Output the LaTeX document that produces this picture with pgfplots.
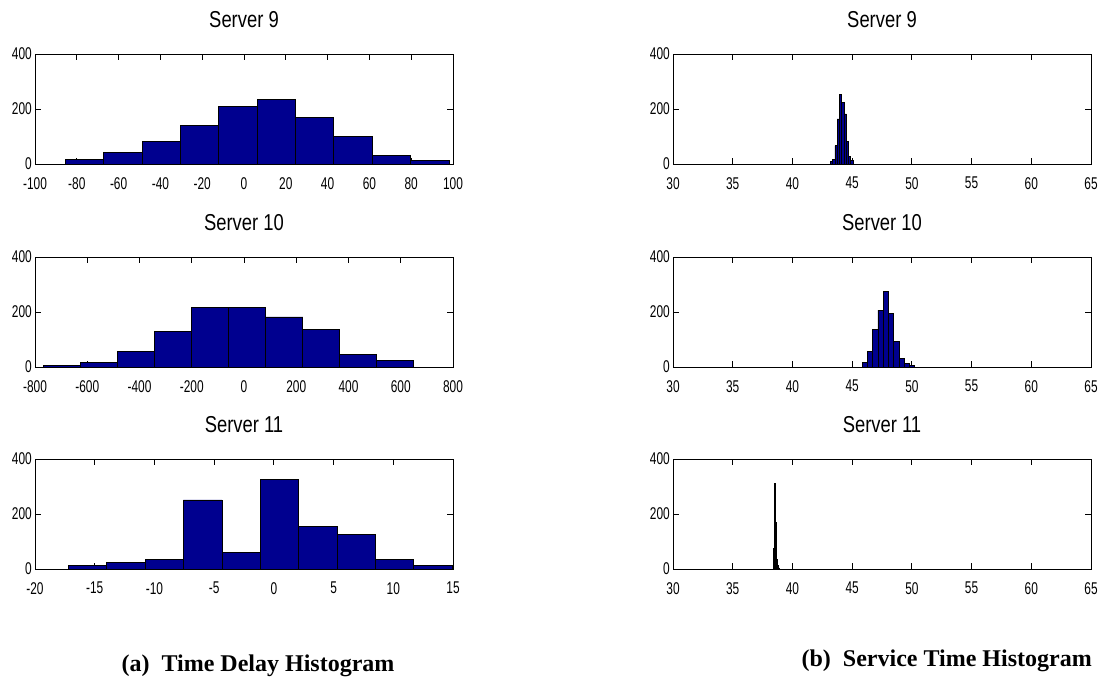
\documentclass[border=0pt]{standalone}
\usepackage{fontspec}
\setmainfont{Liberation Sans}
\newfontfamily\tickfont[FakeStretch=0.70]{Liberation Sans}
\newfontfamily\titfont[FakeStretch=0.80]{Liberation Sans}
\newfontfamily\capfont{Liberation Serif}
\usepackage{pgfplots}
\pgfplotsset{compat=1.18}
\definecolor{mnavy}{RGB}{0,0,143}
\pgfplotsset{
  hist/.style={
    scale only axis, width=418pt, height=110pt,
    ymin=0, ymax=400, ytick={0,200,400},
    tick align=inside, major tick length=6pt,
    tick style={black, line width=0.8pt},
    axis line style={line width=1pt},
    tick label style={font=\tickfont\fontsize{17}{17}\selectfont},
    /pgf/number format/assume math mode=true,
    scaled ticks=false,
    xticklabel style={anchor=north, inner sep=0pt, yshift=-13pt},
    yticklabel style={anchor=east, inner sep=0pt, xshift=-3pt},
    title style={at={(0.5,1)}, anchor=base, yshift=21pt, inner sep=0pt,
      font=\titfont\fontsize{23}{23}\selectfont},
    anchor=south west,
  },
  bars/.style={ybar interval, fill=mnavy, draw=black, line width=0.8pt},
}
\begin{document}
\begin{tikzpicture}
\useasboundingbox (0,0) rectangle (1099pt,-681pt);
% ---------- Left column: Time Delay ----------
\begin{axis}[hist, at={(35pt,-164pt)}, title={Server 9},
  xmin=-100, xmax=100, xtick={-100,-80,...,100}]
\addplot[bars] coordinates {(-85.6,18) (-67.2,41) (-48.8,83) (-30.5,141) (-12.1,210)
  (6.3,235) (24.7,170) (43.0,101) (61.4,30) (79.8,12) (98.2,0)};
\end{axis}
\begin{axis}[hist, at={(35pt,-367pt)}, title={Server 10},
  xmin=-800, xmax=800, xtick={-800,-600,...,800}]
\addplot[bars] coordinates {(-768,6) (-626,17) (-484,57) (-343,130) (-201,218)
  (-59,218) (83,182) (225,136) (366,46) (508,24) (650,0)};
\end{axis}
\begin{axis}[hist, at={(35pt,-569pt)}, title={Server 11},
  xmin=-20, xmax=15, xtick={-20,-15,...,15}]
\addplot[bars] coordinates {(-17.21,12) (-14.0,23) (-10.78,36) (-7.57,251) (-4.35,59)
  (-1.14,325) (2.08,155) (5.29,126) (8.51,36) (11.72,12) (14.94,0)};
\end{axis}
% ---------- Right column: Service Time ----------
\begin{axis}[hist, at={(673pt,-164pt)}, title={Server 9},
  xmin=30, xmax=65, xtick={30,35,...,65}]
\addplot[bars] coordinates {(43.18,8) (43.37,17) (43.56,66) (43.75,164) (43.94,253)
  (44.13,225) (44.32,182) (44.51,83) (44.70,29) (44.89,12) (45.08,0)};
\end{axis}
\begin{axis}[hist, at={(673pt,-367pt)}, title={Server 10},
  xmin=30, xmax=65, xtick={30,35,...,65}]
\addplot[bars] coordinates {(45.84,17) (46.28,57) (46.72,137) (47.16,207) (47.60,276)
  (48.04,194) (48.48,94) (48.92,31) (49.36,12) (49.80,6) (50.24,0)};
\end{axis}
\begin{axis}[hist, at={(673pt,-569pt)}, title={Server 11},
  xmin=30, xmax=65, xtick={30,35,...,65}]
\addplot[bars] coordinates {(38.44,74) (38.52,310) (38.60,169) (38.68,34) (38.76,14)
  (38.84,4) (38.92,0)};
\end{axis}
% ---------- Captions ----------
\node[font=\capfont\bfseries\fontsize{24}{24}\selectfont, anchor=base, inner sep=0pt]
  at (258pt,-671pt) {(a)\hspace{0.5em}Time Delay Histogram};
\node[font=\capfont\bfseries\fontsize{24}{24}\selectfont, anchor=base east, inner sep=0pt]
  at (1092pt,-666pt) {(b)\hspace{0.5em}Service Time Histogram};
\end{tikzpicture}
\end{document}
